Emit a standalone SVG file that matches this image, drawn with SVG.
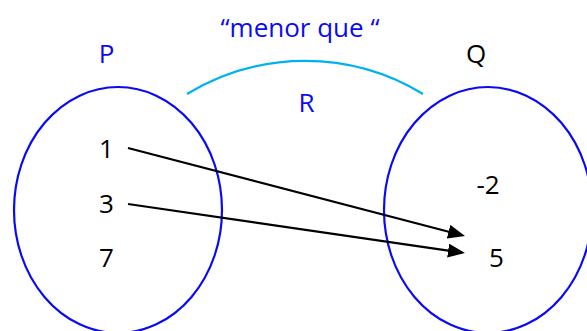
<svg xmlns="http://www.w3.org/2000/svg" width="587" height="331" viewBox="0 0 587 331">
<style>
.set{fill:none;stroke:#0A0AF5;stroke-width:2.2}
.t{font-family:"Open Sans","Liberation Sans",sans-serif;font-size:26px;text-anchor:middle}
.blue{fill:#0A0AF5}
.blk{fill:#000}
.arr{stroke:#000;stroke-width:2.2;fill:none}
.rel{fill:none;stroke:#00B0F0;stroke-width:2.2}
</style>
<defs>
<marker id="ah" markerUnits="userSpaceOnUse" markerWidth="18" markerHeight="15" refX="14" refY="7" orient="auto">
<path d="M0,0 L17,7 L0,14 z" fill="#000"/>
</marker>
</defs>
<rect width="587" height="331" fill="#fff"/>
<g id="setP">
<ellipse class="set" cx="118" cy="210" rx="104" ry="123"/>
<text class="t blue" x="106.5" y="63">P</text>
<text class="t blk" x="106.5" y="158">1</text>
<text class="t blk" x="106.5" y="213">3</text>
<text class="t blk" x="106.5" y="267">7</text>
</g>
<g id="setQ">
<ellipse class="set" cx="488" cy="210" rx="104" ry="123"/>
<text class="t blk" x="476" y="63">Q</text>
<text class="t blk" x="488" y="194">-2</text>
<text class="t blk" x="496.5" y="267">5</text>
</g>
<g id="relation">
<path class="rel" d="M187,94 A227,227 0 0 1 423,94"/>
<text class="t blue" x="300" y="37">“menor que “</text>
<text class="t blue" x="306.5" y="112">R</text>
</g>
<g id="connectors">
<line class="arr" x1="128" y1="148" x2="462.1" y2="235.2" marker-end="url(#ah)"/>
<line class="arr" x1="128" y1="204" x2="462" y2="252.6" marker-end="url(#ah)"/>
</g>
</svg>
